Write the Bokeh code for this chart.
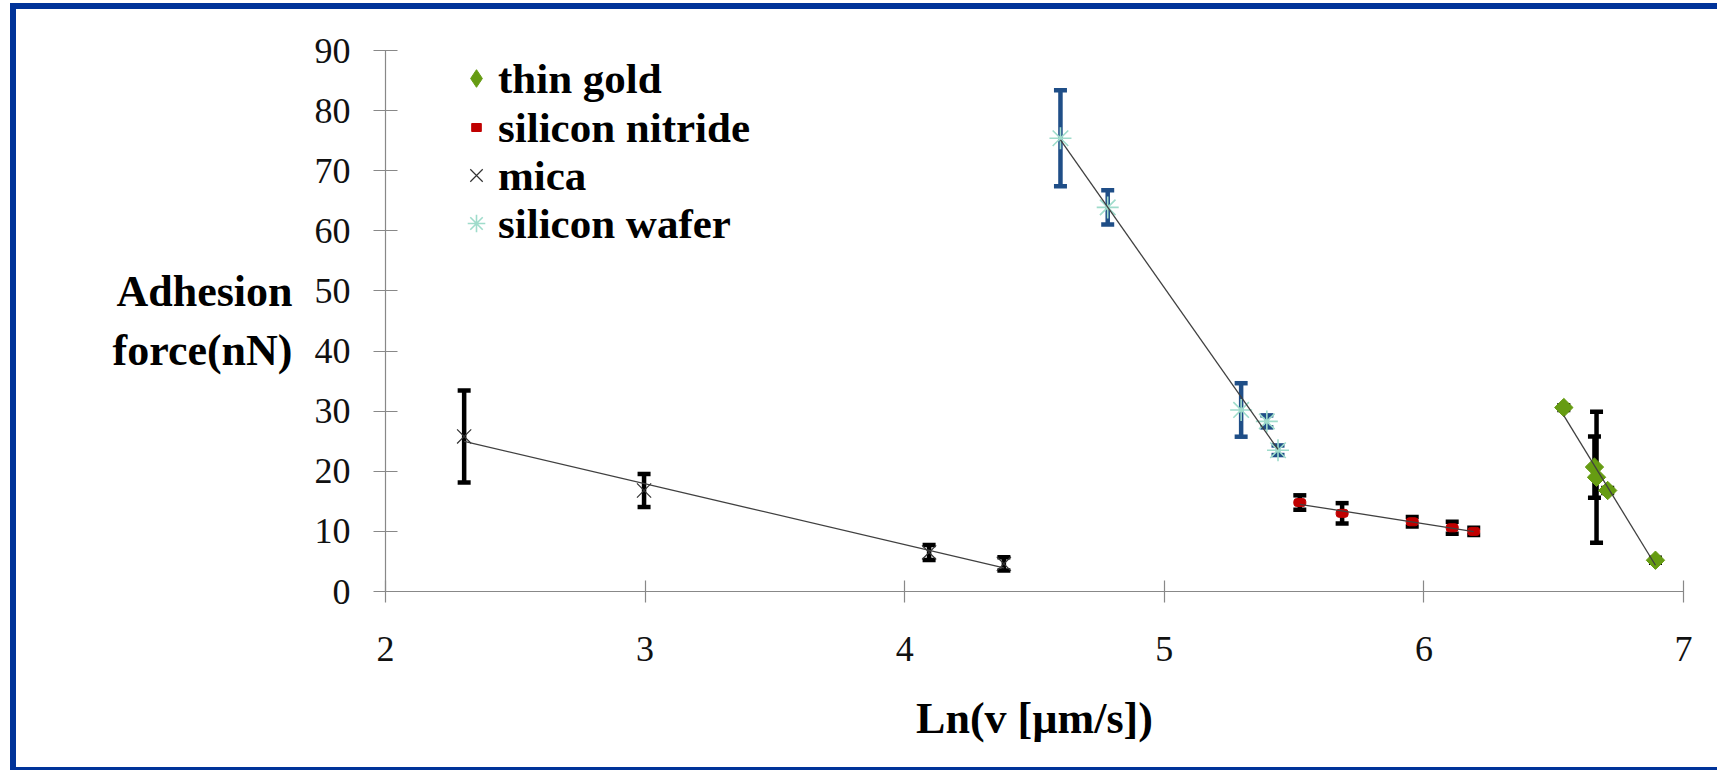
import numpy as np
from bokeh.plotting import figure
from bokeh.models import (ColumnDataSource, Whisker, TeeHead, Legend, LegendItem,
                          FixedTicker, Range1d)
from bokeh.embed import file_html
from bokeh.resources import INLINE

# ---------------- data ----------------
gold_x = [6.539, 6.657, 6.665, 6.708, 6.892]
gold_y = [30.6, 20.7, 19.0, 16.8, 5.2]
gold_err = [0.4, 5.1, 10.9, 0.4, 0.4]

nitride_x = [5.522, 5.685, 5.955, 6.109, 6.192]
nitride_y = [14.8, 13.0, 11.6, 10.6, 10.0]
nitride_err = [1.2, 1.7, 0.8, 1.0, 0.6]

mica_x = [2.303, 2.996, 4.094, 4.382]
mica_y = [25.8, 16.8, 6.5, 4.6]
mica_err = [7.65, 2.75, 1.25, 1.1]

wafer_x = [4.600, 4.782, 5.296, 5.395, 5.438]
wafer_y = [75.4, 63.9, 30.2, 28.3, 23.5]
wafer_err = [8.0, 2.85, 4.45, 1.0, 0.8]

series_names = ["thin gold", "silicon nitride", "mica", "silicon wafer"]
x_ticks = [2, 3, 4, 5, 6, 7]
y_ticks = [0, 10, 20, 30, 40, 50, 60, 70, 80, 90]

SERIF = "Liberation Serif"
BLUE = "#003399"
GREEN = "#669c12"

p = figure(width=1707, height=767, output_backend="svg", toolbar_location=None,
           x_range=Range1d(2, 7), y_range=Range1d(0, 90))
p.styles = {"margin-left": "10px", "margin-top": "3px", "overflow": "hidden",
            "border-left": f"6px solid {BLUE}", "border-top": f"6px solid {BLUE}",
            "border-bottom": f"3px solid {BLUE}"}
p.min_border_left = 369
p.min_border_right = 40
p.min_border_top = 41
p.min_border_bottom = 185
p.outline_line_color = None
p.xgrid.visible = False
p.ygrid.visible = False
p.background_fill_color = "white"
p.border_fill_color = "white"

for ax in (p.xaxis[0], p.yaxis[0]):
    ax.axis_line_color = "#888888"
    ax.axis_line_width = 1.2
    ax.major_tick_line_color = "#888888"
    ax.major_tick_line_width = 1.2
    ax.minor_tick_line_color = None
    ax.major_label_text_font = SERIF
    ax.major_label_text_font_size = "36px"
    ax.major_label_text_color = "#111111"
    ax.axis_label_text_font = SERIF
    ax.axis_label_text_font_style = "bold"
    ax.axis_label_text_font_size = "44px"
    ax.axis_label_text_color = "black"

p.xaxis.ticker = FixedTicker(ticks=x_ticks)
p.yaxis.ticker = FixedTicker(ticks=y_ticks)
p.xaxis.major_tick_in = 11
p.xaxis.major_tick_out = 11
p.yaxis.major_tick_in = 12
p.yaxis.major_tick_out = 12
p.xaxis.major_label_standoff = 34
p.yaxis.major_label_standoff = 23

p.xaxis.axis_label = "Ln(v [µm/s])"
p.xaxis.axis_label_standoff = 30
p.yaxis.axis_label = "Adhesion\nforce(nN)"
p.yaxis.axis_label_orientation = "horizontal"
p.yaxis.axis_label_standoff = 19

# ---------------- error bars ----------------
def add_err(xs, ys, es, color):
    src = ColumnDataSource(dict(x=xs, lo=[y - e for y, e in zip(ys, es)],
                                hi=[y + e for y, e in zip(ys, es)]))
    w = Whisker(source=src, base="x", lower="lo", upper="hi", dimension="height",
                line_color=color, line_width=4.5,
                upper_head=TeeHead(size=13, line_width=4.5, line_color=color),
                lower_head=TeeHead(size=13, line_width=4.5, line_color=color))
    p.add_layout(w)

add_err(mica_x, mica_y, mica_err, "black")
add_err(wafer_x, wafer_y, wafer_err, "#1f4e87")
add_err(nitride_x, nitride_y, nitride_err, "black")
add_err(gold_x, gold_y, gold_err, "black")

# ---------------- markers ----------------
r_gold = p.scatter(gold_x, gold_y, marker="square", size=13, angle=np.pi / 4,
                   fill_color=GREEN, line_color=GREEN)
r_nit = p.rect(nitride_x, nitride_y, width=12, height=8, width_units="screen",
               height_units="screen", fill_color="#c00000", line_color="#c00000",
               border_radius=3)
r_mica = p.scatter(mica_x, mica_y, marker="x", size=20, line_color="#333333",
                   line_width=1.2)
r_wafer = p.scatter(wafer_x, wafer_y, marker="asterisk", size=22,
                    line_color="#9fdccb", line_width=1.6)
# legend-only symbol for the gold series (legend ignores marker rotation)
r_gold_key = p.scatter([np.nan], [np.nan], marker="diamond", size=20,
                       fill_color=GREEN, line_color=GREEN)

# ---------------- linear trend lines ----------------
for xs, ys in ((mica_x, mica_y), (wafer_x, wafer_y), (nitride_x, nitride_y), (gold_x, gold_y)):
    k, b = np.polyfit(xs, ys, 1)
    ends = [min(xs), max(xs)]
    p.line(ends, [k * e + b for e in ends], line_color="#404040", line_width=1.3)

# ---------------- legend (one box per entry so each symbol keeps its size) ----------------
# (renderer, glyph box width, glyph box height, x offset, label standoff, y offset)
legend_specs = [(r_gold_key, 44, 44, 69, 0, 485),
                (r_nit, 12, 10, 85, 16, 436),
                (r_mica, 44, 44, 69, 0, 388),
                (r_wafer, 44, 44, 69, 0, 340)]
for name, (rend, gw, gh, lx, st, ly) in zip(series_names, legend_specs):
    lg = Legend(items=[LegendItem(label=name, renderers=[rend])], location=(lx, ly))
    lg.border_line_color = None
    lg.background_fill_alpha = 0
    lg.padding = 0
    lg.spacing = 0
    lg.margin = 0
    lg.glyph_width = gw
    lg.glyph_height = gh
    lg.label_height = 56
    lg.label_standoff = st
    lg.label_text_font = SERIF
    lg.label_text_font_style = "bold"
    lg.label_text_font_size = "43px"
    lg.label_text_color = "black"
    p.add_layout(lg)

open("out.html", "w").write(file_html(p, INLINE))
